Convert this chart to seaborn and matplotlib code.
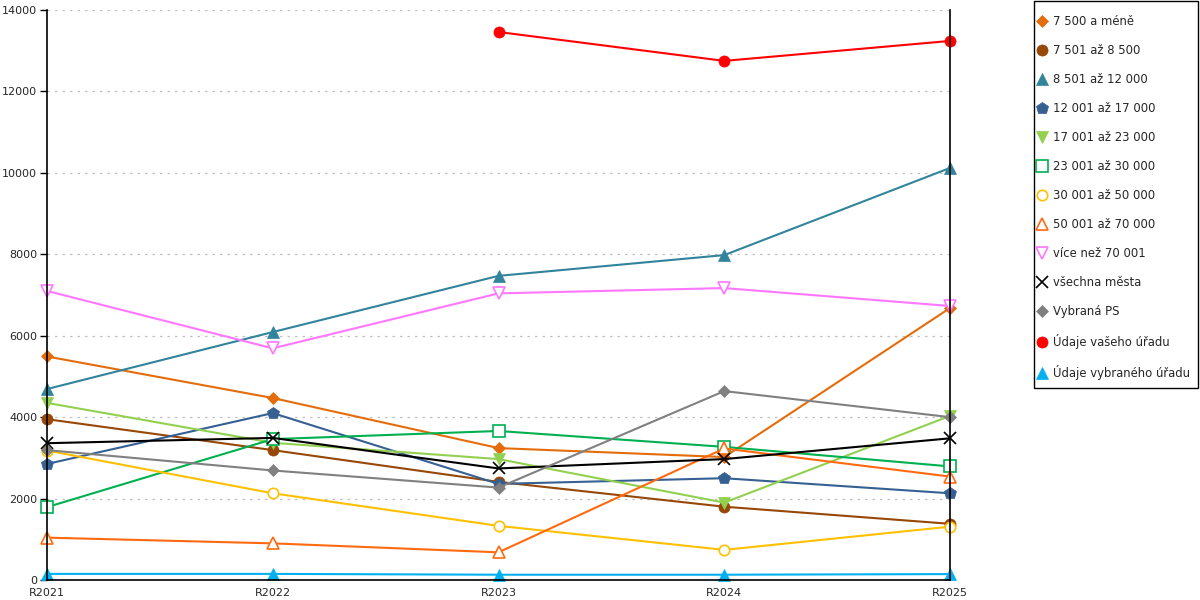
import seaborn as sns
import matplotlib.pyplot as plt
from matplotlib.lines import Line2D
from matplotlib.patches import Rectangle
import numpy as np

# data
years = ["R2021", "R2022", "R2023", "R2024", "R2025"]

labels = ["7 500 a méně", "7 501 až 8 500", "8 501 až 12 000", "12 001 až 17 000",
          "17 001 až 23 000", "23 001 až 30 000", "30 001 až 50 000", "50 001 až 70 000",
          "více než 70 001", "všechna města", "Vybraná PS", "Údaje vašeho úřadu",
          "Údaje vybraného úřadu"]

v_7500 = [5490, 4470, 3240, 3020, 6680]
v_8500 = [3950, 3190, 2410, 1800, 1380]
v_12000 = [4690, 6090, 7470, 7980, 10120]
v_17000 = [2850, 4100, 2360, 2500, 2130]
v_23000 = [4350, 3370, 2970, 1900, 4030]
v_30000 = [1790, 3460, 3660, 3270, 2790]
v_50000 = [3180, 2130, 1330, 740, 1310]
v_70000 = [1040, 900, 680, 3230, 2540]
v_vice = [7100, 5690, 7040, 7170, 6730]
v_vsechna = [3360, 3490, 2740, 2970, 3480]
v_ps = [3190, 2690, 2270, 4640, 4000]
v_vaseho = [np.nan, np.nan, 13460, 12750, 13240]
v_vybraneho = [150, 150, 130, 130, 145]

values = [v_7500, v_8500, v_12000, v_17000, v_23000, v_30000, v_50000, v_70000,
          v_vice, v_vsechna, v_ps, v_vaseho, v_vybraneho]

colors = ["#E46C0A", "#974706", "#31849B", "#366092", "#92D050", "#00B050", "#FFC000",
          "#FF6A10", "#FF77FF", "#000000", "#808080", "#FF0000", "#00B0F0"]
markers = ["D", "o", "^", "p", "v", "s", "o", "^", "v", "x", "D", "o", "^"]
filled = [True, True, True, True, True, False, False, False, False, True, True, True, True]
msizes = [6.5, 8, 8, 9, 8, 8, 7.5, 8.5, 8.5, 9, 6.5, 8, 8]

sns.set_style("white")
plt.rcParams["font.family"] = ["DejaVu Sans"]

fig = plt.figure(figsize=(12, 6), dpi=100)
ax = fig.add_axes([47 / 1200, 20 / 600, 903 / 1200, 570 / 600])

xpos = list(range(len(years)))
handles = []
for lab, vals, c, m, f, ms in zip(labels, values, colors, markers, filled, msizes):
    mew = 1.2 if m == "x" or not f else 0.5
    sns.lineplot(x=xpos, y=vals, ax=ax, color=c, lw=1.5, marker=m, markersize=ms,
                 markerfacecolor=c if f else "white", markeredgecolor=c,
                 markeredgewidth=mew, clip_on=False)
    handles.append(Line2D([], [], ls="none", marker=m, color=c, markersize=ms,
                          markerfacecolor=c if f else "white", markeredgecolor=c,
                          markeredgewidth=mew))

ax.set_xlim(0, 4)
ax.set_ylim(0, 14000)
ax.set_xticks(xpos)
ax.set_xticklabels(years)
ax.set_xticks([0.5, 1.5, 2.5, 3.5], minor=True)
ax.tick_params(axis="x", which="major", length=0, labelsize=8, pad=6)
ax.tick_params(axis="x", which="minor", length=6, width=1, direction="inout", color="black")
ax.set_yticks(range(0, 14001, 2000))
ax.tick_params(axis="y", length=5, width=1, labelsize=8, pad=2, color="black", left=True)
ax.set_xlabel("")
ax.set_ylabel("")
ax.grid(axis="y", color="#c0c0c0", linestyle=(0, (2, 4)), linewidth=0.9)
ax.grid(axis="x", visible=False)

for s in ["left", "bottom", "right"]:
    ax.spines[s].set_visible(True)
    ax.spines[s].set_color("black")
    ax.spines[s].set_linewidth(1.2)
ax.spines["top"].set_visible(False)

# legend box drawn separately, legend itself without frame
fig.patches.append(Rectangle((1034 / 1200, 212 / 600), 164 / 1200, 387 / 600,
                             transform=fig.transFigure, fill=False,
                             edgecolor="black", linewidth=1.0))
fig.legend(handles, labels, loc="upper left", bbox_to_anchor=(1034 / 1200, 1 - 13 / 600),
           fontsize=8.4, frameon=False, labelspacing=1.37, handlelength=0.9,
           handletextpad=0.5, borderpad=0.2, borderaxespad=0)

plt.savefig("out.png", dpi=100)
